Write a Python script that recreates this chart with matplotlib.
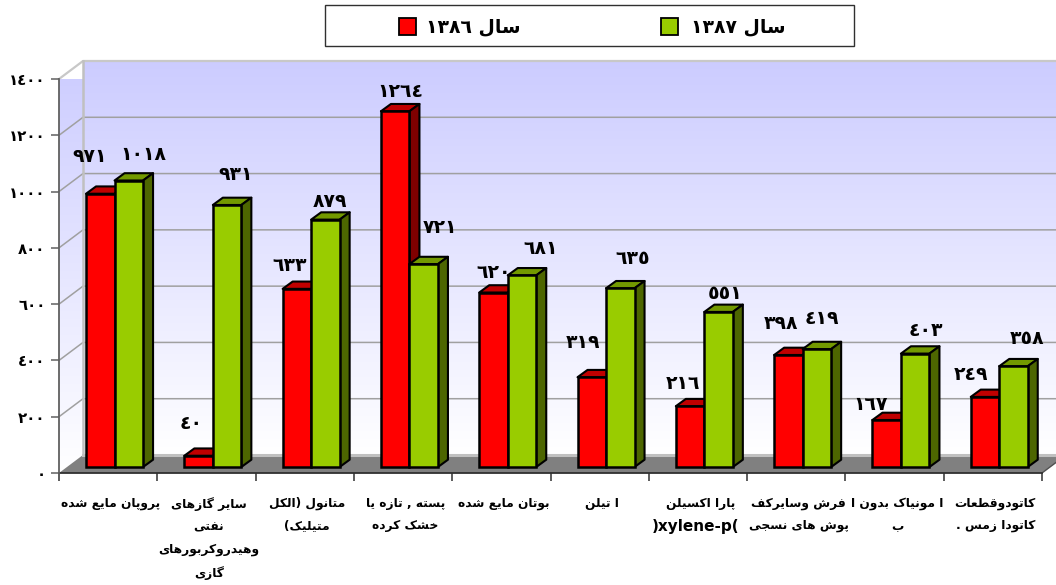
import re
import unicodedata
import numpy as np
import matplotlib
matplotlib.use('Agg')
import matplotlib.pyplot as plt
from matplotlib.colors import LinearSegmentedColormap
from matplotlib.patches import Polygon, Rectangle

series_names = ['سال ١٣٨٦', 'سال ١٣٨٧']
values_1386 = [971, 40, 633, 1264, 620, 319, 216, 398, 167, 249]
values_1387 = [1018, 931, 879, 721, 681, 635, 551, 419, 403, 358]
categories = [
    'پروپان مایع شده',
    'سایر گازهای\nنفتی\nوهیدروکربورهای\nگازی',
    'متانول (الکل\nمتیلیک)',
    'پسته , تازه یا\nخشک کرده',
    'بوتان مایع شده',
    'ا تیلن',
    'پارا اکسیلن',
    'فرش وسایرکف\nپوش های نسجی',
    'ا مونیاک بدون ا\nب',
    'کاتودوقطعات\nکاتودا زمس .',
]
xylene_label = ')xylene-p('
y_ticks = [0, 200, 400, 600, 800, 1000, 1200, 1400]

# label offsets from the bar top, in pixels
offsets_1386 = [(-11, 37), (-7, 32), (-7, 23), (5, 20), (0, 20), (-9, 35), (-7, 23), (-7, 31), (-16, 16), (-14, 22)]
offsets_1387 = [(15, 26), (9, 30), (5, 18), (16, 37), (19, 27), (12, 30), (7, 18), (5, 31), (11, 23), (14, 28)]

W, H = 1056, 585
X0, X1, Y0, Y1 = 59, 1042, 473, 79
PX_X = (X1 - X0) / 10
PX_Y = (Y0 - Y1) / 1400
wall_dx = 24 / PX_X
wall_dy = 18 / PX_Y
right_end = (W - X0) / PX_X
bar_dx = 10 / PX_X
bar_dy = 7.3 / PX_Y
bar_base = 6 / PX_Y
bar_w = 0.29
centre = 0.565

# matplotlib does no arabic shaping, so pick the presentation forms here
forms = {}
for cp in list(range(0xFB50, 0xFE00)) + list(range(0xFE70, 0xFEFF)):
    d = unicodedata.decomposition(chr(cp)).split()
    if len(d) == 2 and d[0] in ('<isolated>', '<final>', '<initial>', '<medial>'):
        forms.setdefault(chr(int(d[1], 16)), {}).setdefault(d[0][1:-1], chr(cp))


def shape_line(line):
    out = []
    for i, c in enumerate(line):
        if c not in forms:
            out.append({'(': ')', ')': '('}.get(c, c))
            continue
        before = line[i - 1] if i > 0 else ''
        after = line[i + 1] if i < len(line) - 1 else ''
        join_prev = 'final' in forms[c] and before in forms and 'initial' in forms[before]
        join_next = 'initial' in forms[c] and after in forms and 'final' in forms[after]
        if join_prev and join_next:
            out.append(forms[c]['medial'])
        elif join_prev:
            out.append(forms[c]['final'])
        elif join_next:
            out.append(forms[c]['initial'])
        else:
            out.append(forms[c].get('isolated', c))
    tokens = re.findall('[\u0660-\u0669]+|.', ''.join(out))
    return ''.join(reversed(tokens))


def shape(text):
    return '\n'.join(shape_line(t) for t in text.split('\n'))


def fa_num(v):
    return str(v).translate({48 + i: 0x660 + i for i in range(10)})


plt.rcParams['font.family'] = ['DejaVu Sans']
plt.rcParams['font.weight'] = 'bold'

fig = plt.figure(figsize=(W / 100, H / 100), dpi=100)
ax = fig.add_axes([X0 / W, 1 - Y0 / H, (X1 - X0) / W, (Y0 - Y1) / H])
ax.set_facecolor('none')

cmap = LinearSegmentedColormap.from_list('wall', ['#CCCCFF', '#FFFFFF'])
grad = np.linspace(0, 1, 256).reshape(-1, 1)

# back wall
ax.imshow(grad, cmap=cmap, aspect='auto', zorder=0, clip_on=False,
          extent=(wall_dx, right_end, wall_dy, 1400 + wall_dy))
# left wall
left_wall = Polygon([(0, 0), (wall_dx, wall_dy), (wall_dx, 1400 + wall_dy), (0, 1400)],
                    transform=ax.transData, facecolor='none', edgecolor='none')
ax.add_patch(left_wall)
im = ax.imshow(grad, cmap=cmap, aspect='auto', zorder=0,
               extent=(0, wall_dx, 0, 1400 + wall_dy))
im.set_clip_box(None)
im.set_clip_path(left_wall)

# floor
floor_end = (right_end - 10) * wall_dy / wall_dx
ax.add_patch(Polygon([(0, 0), (wall_dx, wall_dy), (right_end, wall_dy), (right_end, floor_end), (10, 0)],
                     facecolor='#808080', edgecolor='none', zorder=1, clip_on=False))
ax.plot([wall_dx, right_end], [wall_dy, wall_dy], color='#C0C0C0', lw=2.2, zorder=1.1, clip_on=False)

# grid on the walls
for t in y_ticks[1:-1]:
    ax.plot([0, wall_dx, right_end], [t, t + wall_dy, t + wall_dy], color='#A0A0A0', lw=1.1, zorder=1, clip_on=False)
ax.plot([0, wall_dx, right_end], [1400, 1400 + wall_dy, 1400 + wall_dy], color='#C8C8C8', lw=1.6, zorder=1, clip_on=False)
ax.plot([wall_dx, wall_dx], [wall_dy, 1400 + wall_dy], color='#C0C0C0', lw=1.8, zorder=1.1, clip_on=False)
ax.plot([10, right_end], [0, floor_end], color='#505050', lw=1, zorder=1.1, clip_on=False)


def draw_bars(values, shift, face, top, side, offsets, z):
    xs = np.arange(len(values)) + centre + shift
    for i, (x, v) in enumerate(zip(xs, values)):
        zi = z + i * 2
        l, r = x - bar_w / 2, x + bar_w / 2
        y0, y1 = bar_base, bar_base + v
        ax.add_patch(Polygon([(l, y1), (l + bar_dx, y1 + bar_dy), (r + bar_dx, y1 + bar_dy), (r, y1)],
                             facecolor=top, edgecolor='black', lw=1.5, zorder=zi, clip_on=False, joinstyle='round'))
        ax.add_patch(Polygon([(r, y0), (r + bar_dx, y0 + bar_dy), (r + bar_dx, y1 + bar_dy), (r, y1)],
                             facecolor=side, edgecolor='black', lw=1.5, zorder=zi, clip_on=False, joinstyle='round'))
        ax.bar(x, v, bar_w, bottom=bar_base, color=face, edgecolor='black', lw=1.8, zorder=zi + 0.5, clip_on=False)
        ax.annotate(fa_num(v), (x, y1), xytext=offsets[i], textcoords='offset pixels',
                    ha='center', va='center', fontsize=13.5, color='black', zorder=100)


draw_bars(values_1386, -bar_w / 2, '#FF0000', '#C00000', '#800000', offsets_1386, 4)
draw_bars(values_1387, bar_w / 2, '#99CC00', '#739900', '#4D6600', offsets_1387, 5)

ax.set_xlim(0, 10)
ax.set_ylim(0, 1400)

for s in ['top', 'right']:
    ax.spines[s].set_visible(False)
ax.spines['left'].set_color('#606060')
ax.spines['left'].set_linewidth(1.3)
ax.spines['bottom'].set_color('#303030')
ax.spines['bottom'].set_linewidth(1.3)
ax.spines['bottom'].set_zorder(2)

ax.set_yticks(y_ticks)
ax.set_yticklabels([fa_num(t) for t in y_ticks], fontsize=10.8)
ax.tick_params(axis='y', length=5.8, width=1.1, color='#606060', pad=4)

ax.set_xticks(np.arange(11))
ax.set_xticklabels([])
ax.tick_params(axis='x', which='major', length=5.8, width=1.1, color='#303030')
ax.set_xticks(np.arange(10) + 0.525, minor=True)
ax.set_xticklabels([shape(c) for c in categories], minor=True, fontsize=8.8, linespacing=1.95, va='top')
ax.tick_params(axis='x', which='minor', length=0, pad=17)

# this line has latin letters, wider than the rest of the labels
ax.annotate(xylene_label, (6.48, 0), xytext=(0, -54), textcoords='offset pixels', ha='center', va='center',
            fontsize=11, color='black', annotation_clip=False)

# legend box
fig.add_artist(Rectangle((325 / W, 1 - 46 / H), 529 / W, 41.5 / H, transform=fig.transFigure,
                         facecolor='white', edgecolor='#303030', lw=1))
for name, color, sx, tx in [(series_names[0], '#FF0000', 399, 473), (series_names[1], '#99CC00', 661, 738)]:
    fig.add_artist(Rectangle((sx / W, 1 - 35 / H), 17 / W, 17 / H, transform=fig.transFigure,
                             facecolor=color, edgecolor='black', lw=1.3))
    fig.text(tx / W, 1 - 27 / H, shape(name), ha='center', va='center', fontsize=13.5, color='black')

fig.savefig('out.png', dpi=100)
